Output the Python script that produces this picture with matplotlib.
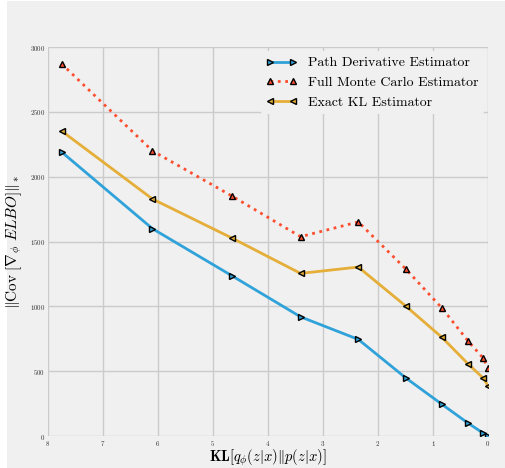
import matplotlib
matplotlib.use("Agg")
import matplotlib.pyplot as plt
from matplotlib.patches import Rectangle

# KL divergence (x axis)
kl = [7.754, 6.101, 4.657, 3.408, 2.358, 1.495, 0.836, 0.369, 0.091, 0.0]

# gradient covariance norms per estimator
path_deriv = [2191, 1599, 1236, 919, 745, 448, 244, 101, 23, 0]
full_mc = [2871, 2199, 1851, 1537, 1651, 1288, 986, 736, 602, 525]
exact_kl = [2353, 1828, 1527, 1254, 1303, 1002, 760, 559, 448, 389]

labels = ["Path Derivative Estimator", "Full Monte Carlo Estimator", "Exact KL Estimator"]

plt.style.use("fivethirtyeight")
plt.rcParams["font.family"] = "serif"
plt.rcParams["font.serif"] = ["cmr10"]
plt.rcParams["mathtext.fontset"] = "cm"
plt.rcParams["axes.formatter.use_mathtext"] = True

fig = plt.figure(figsize=(5.06, 4.68), dpi=100, facecolor="white")
fig.patches.append(Rectangle((7 / 506, 0), 1, 1 - 1 / 468, transform=fig.transFigure,
                             facecolor="#f0f0f0", edgecolor="none", zorder=-10))
ax = fig.add_axes([48 / 506, 32 / 468, 440 / 506, 389 / 468])
ax.set_facecolor("#f0f0f0")

ax.plot(kl, path_deriv, color="#30a2da", lw=2, marker=">", ms=5,
        mec="black", mew=1, label=labels[0])
ax.plot(kl, full_mc, color="#fc4f30", lw=2, ls=":", marker="^", ms=5,
        mec="black", mew=1, label=labels[1])
ax.plot(kl, exact_kl, color="#e5ae38", lw=2, marker="<", ms=5,
        mec="black", mew=1, label=labels[2])

ax.set_xlim(8, 0)
ax.set_ylim(0, 3000)
ax.set_xticks(range(0, 9))
ax.set_yticks(range(0, 3001, 500))
ax.grid(True, color="#cbcbcb", lw=1)
for s in ax.spines.values():
    s.set_visible(False)
ax.tick_params(axis="both", labelsize=5, length=0, pad=2, colors="#333333")

ax.set_xlabel(r"$\mathbf{KL}\left[q_\phi(z|x)\|p(z|x)\right]$", fontsize=10.5, labelpad=0)
ax.set_ylabel(r"$\|\mathrm{Cov}\ \left[\nabla_\phi\ ELBO\right]\|_*$", fontsize=11, labelpad=4)

leg = ax.legend(loc="upper right", fontsize=10, numpoints=2, handlelength=2.2,
                frameon=True, fancybox=True, framealpha=1, borderaxespad=0.3)
leg.get_frame().set_facecolor("#f0f0f0")
leg.get_frame().set_edgecolor("none")

fig.savefig("out.png", dpi=100, facecolor=fig.get_facecolor())
